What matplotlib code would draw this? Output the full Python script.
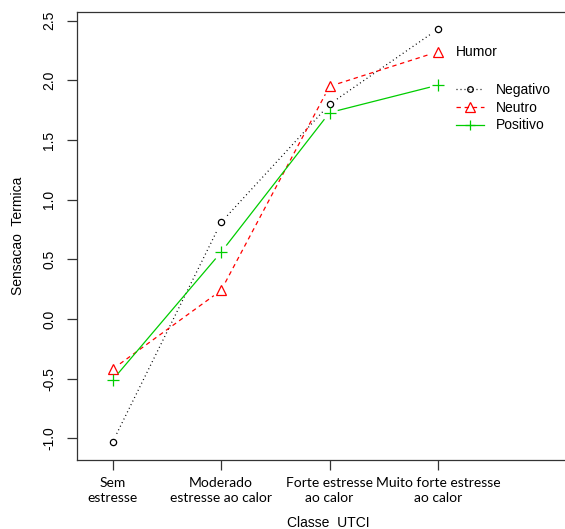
import numpy as np
import matplotlib.pyplot as plt
from matplotlib.lines import Line2D

# Data
classes = [
    "Sem\nestresse",
    "Moderado\nestresse ao calor",
    "Forte estresse\nao calor",
    "Muito forte estresse\nao calor",
]
negativo = [-1.03, 0.81, 1.80, 2.43]
neutro = [-0.42, 0.24, 1.95, 2.24]
positivo = [-0.51, 0.56, 1.73, 1.96]
humor_labels = ["Negativo", "Neutro", "Positivo"]
y_ticks = [-1.0, -0.5, 0.0, 0.5, 1.0, 1.5, 2.0, 2.5]

plt.rcParams["font.family"] = ["Liberation Sans", "DejaVu Sans"]
plt.rcParams["font.size"] = 10

fig = plt.figure(figsize=(5.65, 5.29), dpi=100)
ax = fig.add_axes([77 / 565, 69 / 529, 502 / 565, 448 / 529])
x = np.arange(1, len(classes) + 1)
ax.set_xlim(0.671, 5.3)
ax.set_ylim(-1.182, 2.573)

styles = [
    dict(color="black", dashes=(0.8, 2.4), marker="o", ms=4.5),
    dict(color="#FF0000", dashes=(3.5, 3.0), marker="^", ms=7.5),
    dict(color="#00CD00", dashes=(None, None), marker="+", ms=8),
]
series = [negativo, neutro, positivo]


def gapped(ax, xs, ys, gap, **kw):
    # R type="b": lines stop short of each point
    pts = ax.transData.transform(np.column_stack([xs, ys]))
    inv = ax.transData.inverted()
    for p0, p1 in zip(pts[:-1], pts[1:]):
        d = p1 - p0
        u = d / np.hypot(*d)
        a = inv.transform(p0 + u * gap)
        b = inv.transform(p1 - u * gap)
        ax.plot([a[0], b[0]], [a[1], b[1]], **kw)


handles = []
for vals, st, lab in zip(series, styles, humor_labels):
    line_kw = dict(color=st["color"], lw=0.9)
    if st["dashes"][0] is not None:
        line_kw["dashes"] = st["dashes"]
    gapped(ax, x, vals, 9, **line_kw)
    ax.plot(x, vals, ls="none", marker=st["marker"], ms=st["ms"],
            mfc="none", mec=st["color"], mew=0.9)
    handles.append(Line2D([], [], marker=st["marker"], ms=st["ms"] * 0.9,
                          mfc="none", mec=st["color"], mew=0.9, label=lab,
                          **line_kw))

for side in ["left", "bottom", "top"]:
    ax.spines[side].set_linewidth(0.9)
    ax.spines[side].set_color("#333333")
ax.spines["right"].set_visible(False)

ax.set_xticks(x)
ax.set_xticklabels(classes, family=["Lato", "DejaVu Sans"], fontsize=10,
                   linespacing=1.38)
ax.set_yticks(y_ticks)
ax.set_yticklabels([f"{v:.1f}" for v in y_ticks], rotation=90, va="center")
ax.tick_params(axis="x", length=7, width=0.9, pad=5, color="#333333")
ax.tick_params(axis="y", length=7, width=0.9, pad=8, color="#333333")

ax.set_ylabel("Sensacao  Termica", va="center")
ax.yaxis.set_label_coords(-0.1175, 0.5)
ax.set_xlabel("Classe  UTCI", va="center")
ax.xaxis.set_label_coords(0.5, -0.14)

fig.text(456 / 565, 1 - 52 / 529, "Humor", ha="left", va="center")
ax.legend(handles=handles, loc="upper left", frameon=False,
          bbox_to_anchor=(456 / 565, 1 - 83 / 529),
          bbox_transform=fig.transFigure, borderpad=0, borderaxespad=0,
          handlelength=2.0, handletextpad=0.9, labelspacing=0.27)

fig.savefig("out.png", dpi=100)
